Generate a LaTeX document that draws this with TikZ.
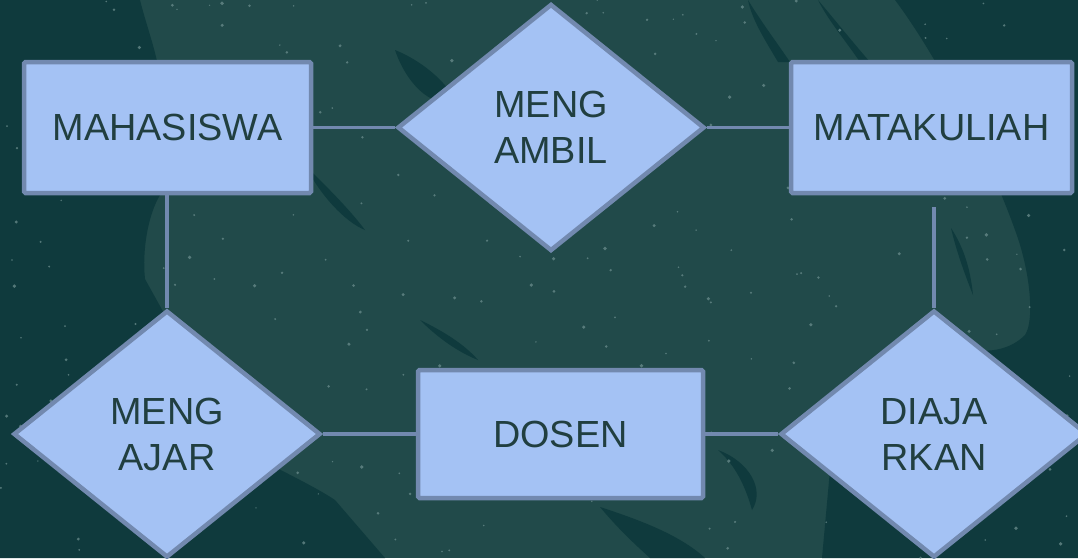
\documentclass[tikz,border=0pt]{standalone}
\usepackage{fontspec}
\setmainfont{Liberation Sans}
\usetikzlibrary{shapes.geometric}
\definecolor{bgbase}{HTML}{214A4A}
\definecolor{bgdark}{HTML}{0F3A3D}
\definecolor{speck}{HTML}{6A8C8C}
\definecolor{boxfill}{HTML}{A4C2F4}
\definecolor{boxline}{HTML}{7289AF}
\definecolor{txt}{HTML}{213F40}
\tikzset{
  entity/.style={rectangle, draw=boxline, fill=boxfill, line width=4.5pt,
    rounded corners=1.5pt, inner sep=0pt, text=txt,
    font=\fontsize{37.8}{46}\selectfont},
  relation/.style={diamond, draw=boxline, fill=boxfill, line width=4.5pt,
    inner sep=0pt, minimum width=307pt, minimum height=247pt, text=txt,
    align=center, font=\fontsize{37.8}{46}\selectfont},
  link/.style={draw=boxline, line width=3.6pt},
  leaf/.style={fill=bgdark}
}
\begin{document}
\begin{tikzpicture}[x=1pt,y=-1pt]
\useasboundingbox (0,0) rectangle (1078,558);
% background
\fill[bgbase] (0,0) rectangle (1078,558);
\fill[bgdark] (0,0) -- (140,0) .. controls (150,40) and (165,70) .. (162,120)
  -- (160,195) .. controls (148,215) and (142,250) .. (145,279)
  -- (165,315) -- (275,467) .. controls (300,480) and (320,490) .. (335,500)
  -- (385,558) -- (0,558) -- cycle;
\fill[bgdark] (895,0) .. controls (940,60) and (990,160) .. (1015,230)
  .. controls (1030,270) and (1035,320) .. (1025,335)
  .. controls (1010,350) and (990,352) .. (975,350)
  -- (950,380) -- (830,470) -- (822,558) -- (1078,558) -- (1078,0) -- cycle;
\fill[bgdark] (600,507) .. controls (640,520) and (680,535) .. (705,558)
  -- (650,558) .. controls (630,540) and (615,525) .. (600,507) -- cycle;
% leaves
\fill[leaf] (395,50) .. controls (420,60) and (445,80) .. (455,100)
  .. controls (430,110) and (405,80) .. (395,50) -- cycle;
\fill[leaf] (305,165) .. controls (330,190) and (350,210) .. (365,230)
  .. controls (345,222) and (320,195) .. (305,165) -- cycle;
\fill[leaf] (748,0) .. controls (760,20) and (775,40) .. (790,62)
  -- (778,62) .. controls (765,40) and (752,20) .. (748,0) -- cycle;
\fill[leaf] (818,0) .. controls (835,20) and (855,45) .. (870,62)
  -- (860,62) .. controls (845,40) and (828,20) .. (818,0) -- cycle;
\fill[leaf] (420,320) .. controls (445,332) and (465,345) .. (478,360)
  .. controls (458,352) and (438,338) .. (420,320) -- cycle;
\fill[leaf] (718,450) .. controls (750,462) and (765,490) .. (752,510)
  .. controls (745,485) and (735,465) .. (718,450) -- cycle;
\fill[leaf] (951,228) .. controls (962,245) and (970,265) .. (973,295)
  .. controls (965,275) and (956,250) .. (951,228) -- cycle;
% speckles
\pgfmathsetseed{11}
\foreach \i in {1,...,260}{
  \pgfmathsetmacro\rx{rnd*1078}
  \pgfmathsetmacro\ry{rnd*558}
  \pgfmathsetmacro\rr{0.7+rnd*1.2}
  \fill[speck, opacity=0.75] (\rx,\ry) circle (\rr pt);
}
% nodes
\node[entity, minimum width=287pt, minimum height=131pt] (mhs) at (167.5,127.5) {MAHASISWA};
\node[entity, minimum width=281pt, minimum height=131pt] (mk) at (931.5,127.5) {MATAKULIAH};
\node[entity, minimum width=285pt, minimum height=128pt] (dsn) at (560.5,434) {DOSEN};
\node[relation] (ambil) at (551,127.5) {MENG\\AMBIL};
\node[relation] (ajar) at (167,434) {MENG\\AJAR};
\node[relation] (diajar) at (934,434) {DIAJA\\RKAN};
\coordinate (mkfree) at (934,207);
% connectors
\draw[link] (mhs.east) -- (ambil.west);
\draw[link] (ambil.east) -- (mk.west);
\draw[link] (mhs.south -| ajar.north) -- (ajar.north);
\draw[link] (ajar.east) -- (dsn.west);
\draw[link] (dsn.east) -- (diajar.west);
\draw[link] (mkfree) -- (diajar.north);
\end{tikzpicture}
\end{document}
